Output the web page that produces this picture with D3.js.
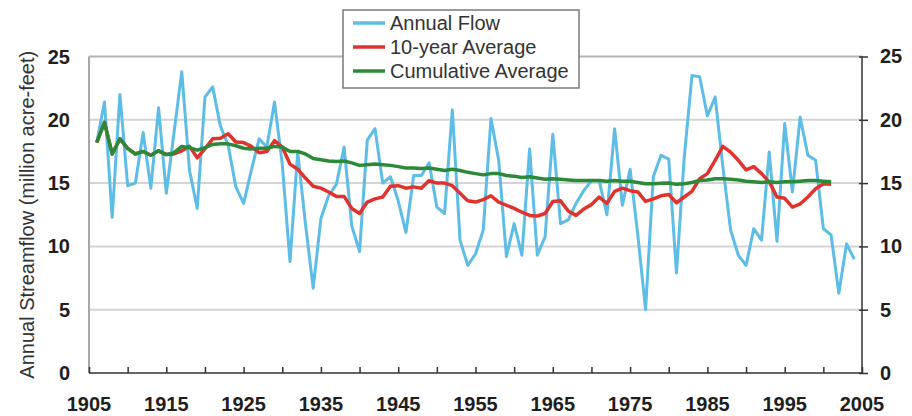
<!DOCTYPE html>
<html><head><meta charset="utf-8">
<script src="https://cdn.jsdelivr.net/npm/d3@7/dist/d3.min.js"></script>
<style>body{margin:0;background:#fff}svg{display:block}</style>
</head><body>
<svg id="c" width="912" height="416"></svg>
<script>
const years = d3.range(1906, 2005);
const annualFlow = [18.2,21.4,12.3,22.0,14.8,15.0,19.0,14.6,20.95,14.2,
 19.0,23.8,16.0,13.0,21.8,22.6,19.5,18.0,14.7,13.4,
 16.0,18.5,17.85,21.4,16.5,8.8,17.45,11.8,6.7,12.2,
 14.0,14.9,17.85,11.6,9.6,18.4,19.3,15.0,15.5,13.6,
 11.1,15.6,15.6,16.6,13.1,12.6,20.8,10.5,8.5,9.4,
 11.3,20.1,16.8,9.2,11.8,9.3,17.7,9.3,10.75,18.85,
 11.8,12.1,13.4,14.4,15.2,15.2,12.5,19.3,13.25,16.1,
 10.9,5.0,15.5,17.2,16.9,7.9,17.0,23.5,23.4,20.3,
 21.8,16.3,11.3,9.3,8.5,11.4,10.5,17.45,10.4,19.7,
 14.3,20.2,17.2,16.8,11.4,10.9,6.3,10.2,9.0];
const avgYears = d3.range(1906, 2002);
const tenYearAvg = [18.2,19.8,17.3,18.5,17.75,17.3,17.5,17.2,17.55,17.25,
 17.3,17.55,17.9,17.0,17.7,18.5,18.55,18.9,18.25,18.2,
 17.9,17.4,17.5,18.35,17.85,16.5,16.1,15.4,14.75,14.6,
 14.3,13.95,13.95,13.0,12.6,13.5,13.75,13.9,14.75,14.8,
 14.6,14.7,14.6,15.2,15.0,15.0,14.8,14.2,13.6,13.5,
 13.7,14.0,13.5,13.25,13.0,12.7,12.45,12.4,12.6,13.55,
 13.6,12.8,12.45,12.95,13.3,13.9,13.4,14.35,14.6,14.4,
 14.3,13.55,13.75,14.0,14.1,13.45,13.9,14.35,15.35,15.75,
 16.8,17.9,17.45,16.8,16.05,16.3,15.75,15.1,13.9,13.8,
 13.1,13.35,13.9,14.55,14.95,14.9];
const cumulativeAvg = [18.2,19.8,17.3,18.5,17.75,17.3,17.5,17.2,17.55,17.25,
 17.4,17.9,17.8,17.6,17.8,18.05,18.1,18.1,17.95,17.75,
 17.7,17.75,17.75,17.9,17.85,17.5,17.5,17.3,16.95,16.85,
 16.75,16.7,16.75,16.6,16.4,16.45,16.5,16.45,16.4,16.3,
 16.2,16.2,16.15,16.2,16.1,16.0,16.1,16.0,15.85,15.75,
 15.65,15.75,15.75,15.6,15.55,15.45,15.5,15.4,15.3,15.35,
 15.3,15.25,15.2,15.2,15.2,15.2,15.15,15.2,15.15,15.15,
 15.05,14.95,14.95,14.98,15.0,14.9,14.95,15.05,15.2,15.25,
 15.35,15.35,15.3,15.25,15.15,15.1,15.05,15.1,15.05,15.1,
 15.1,15.15,15.2,15.2,15.15,15.1];
const xTicks = d3.range(1905, 2006, 5);
const xLabels = d3.range(1905, 2006, 10);
const yTicks = [0,5,10,15,20,25];
const seriesNames = ["Annual Flow","10-year Average","Cumulative Average"];
const seriesColors = ["#5ebde6","#e0332e","#2a8a38"];

const svg = d3.select("#c");
const x = d3.scaleLinear().domain([1905, 2005]).range([89, 862]);
const y = d3.scaleLinear().domain([0, 25]).range([373, 56.5]);
const tickFont = "'Liberation Sans', Arial, sans-serif";

// gridlines
svg.append("g").selectAll("line").data(yTicks.filter(d => d > 0)).join("line")
  .attr("x1", x(1905)).attr("x2", x(2005))
  .attr("y1", d => y(d)).attr("y2", d => y(d))
  .attr("stroke", d => d === 25 ? "#b4b4b4" : "#d4d4d4").attr("stroke-width", 2);

// left axis line (grey)
svg.append("line").attr("x1", x(1905)).attr("x2", x(1905)).attr("y1", y(25)).attr("y2", y(0))
  .attr("stroke", "#a8a8a8").attr("stroke-width", 2);

// right axis
const yRight = svg.append("g").attr("transform", `translate(${x(2005)},0)`)
  .call(d3.axisRight(y).tickValues(yTicks).tickSize(6).tickPadding(12).tickFormat(d3.format("d")));
yRight.select(".domain").attr("stroke", "#333").attr("stroke-width", 1.5).attr("d", `M0,${y(25)}V${y(0)}`);
yRight.selectAll(".tick line").attr("stroke", "#333").attr("stroke-width", 1.5).attr("x1", -3);
yRight.selectAll(".tick text").attr("font-family", tickFont).attr("font-size", 20)
  .attr("font-weight", "bold").attr("fill", "#1e1e1e");

// left labels
svg.append("g").selectAll("text").data(yTicks).join("text")
  .attr("x", 70).attr("y", d => y(d)).attr("dy", "0.35em").attr("text-anchor", "end")
  .attr("font-family", tickFont).attr("font-size", 20).attr("font-weight", "bold").attr("fill", "#1e1e1e")
  .text(d => d);

// bottom axis
const xAxis = svg.append("g").attr("transform", `translate(0,${y(0)})`)
  .call(d3.axisTop(x).tickValues(xTicks).tickSize(6).tickFormat(""));
xAxis.select(".domain").attr("stroke", "#333").attr("stroke-width", 1.5).attr("d", `M${x(1905)},0H${x(2005)}`);
xAxis.selectAll(".tick line").attr("stroke", "#333").attr("stroke-width", 1.5);
svg.append("g").selectAll("text").data(xLabels).join("text")
  .attr("x", d => x(d)).attr("y", 411).attr("text-anchor", "middle")
  .attr("font-family", tickFont).attr("font-size", 20).attr("font-weight", "bold").attr("fill", "#1e1e1e")
  .text(d => d);

// y title
svg.append("text").attr("transform", `translate(34,${(y(0)+y(25))/2}) rotate(-90)`)
  .attr("text-anchor", "middle").attr("font-family", tickFont).attr("font-size", 20).attr("fill", "#333")
  .text("Annual Streamflow (million acre-feet)");

// lines
const line = d3.line().x(d => x(d[0])).y(d => y(d[1]));
svg.append("path").datum(years.map((yr, i) => [yr, annualFlow[i]]))
  .attr("d", line).attr("fill", "none").attr("stroke", seriesColors[0]).attr("stroke-width", 3)
  .attr("stroke-linejoin", "round");
svg.append("path").datum(avgYears.map((yr, i) => [yr, tenYearAvg[i]]))
  .attr("d", line).attr("fill", "none").attr("stroke", seriesColors[1]).attr("stroke-width", 3.5)
  .attr("stroke-linejoin", "round");
svg.append("path").datum(avgYears.map((yr, i) => [yr, cumulativeAvg[i]]))
  .attr("d", line).attr("fill", "none").attr("stroke", seriesColors[2]).attr("stroke-width", 3.5)
  .attr("stroke-linejoin", "round");

// legend
const lg = svg.append("g");
lg.append("rect").attr("x", 343).attr("y", 10).attr("width", 236).attr("height", 78)
  .attr("fill", "#fff").attr("stroke", "#7a7a7a").attr("stroke-width", 1.5);
const rows = lg.selectAll("g.row").data(seriesNames).join("g").attr("class", "row")
  .attr("transform", (d, i) => `translate(0,${23 + i * 24})`);
rows.append("line").attr("x1", 353).attr("x2", 385).attr("y1", 0).attr("y2", 0)
  .attr("stroke", (d, i) => seriesColors[i]).attr("stroke-width", 3.5);
rows.append("text").attr("x", 390).attr("y", 0).attr("dy", "0.35em")
  .attr("font-family", tickFont).attr("font-size", 20).attr("fill", "#333").text(d => d);
</script>
</body></html>
